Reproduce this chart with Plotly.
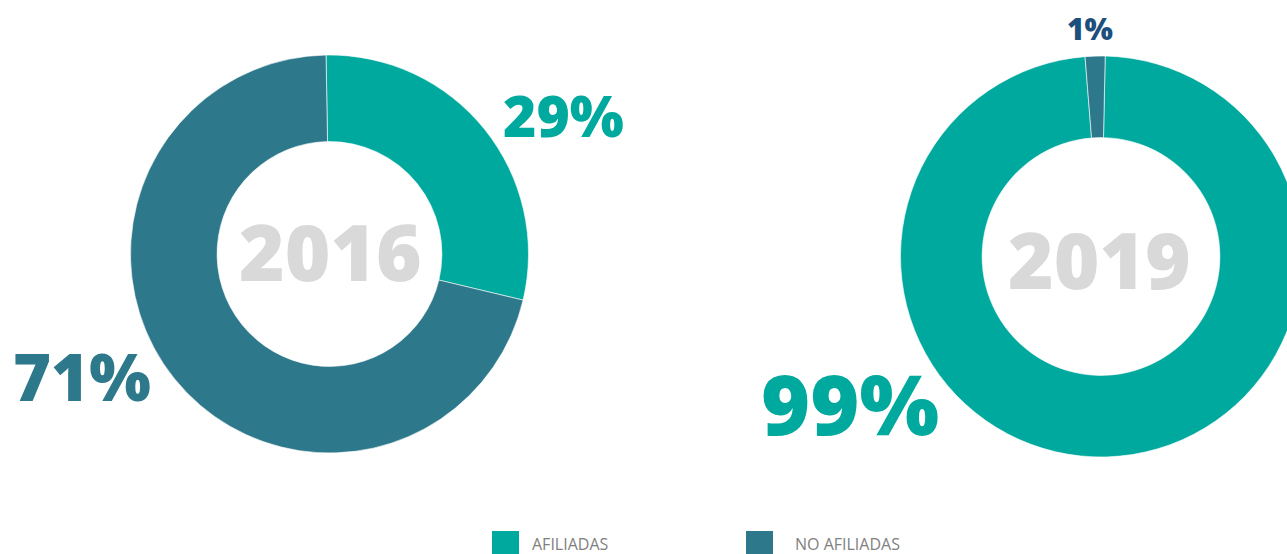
import plotly.graph_objects as go

# ---- data ----
categories = ["AFILIADAS", "NO AFILIADAS"]
values_2016 = [29, 71]
values_2019 = [98.4, 1.6]
labels_2016 = ["29%", "71%"]
labels_2019 = ["99%", "1%"]
years = ["2016", "2019"]

# ---- style ----
TEAL = "#00A99D"
DARK = "#2E788C"
LABEL_1PCT = "#1D4F7C"
YEAR_GREY = "#D9D9D9"
LEGEND_GREY = "#808080"
FONT = "Open Sans"

W, H = 1302, 554


def fx(x):
    return x / W


def fy(y):
    return 1 - y / H


fig = go.Figure()

fig.add_trace(go.Pie(
    labels=categories, values=values_2016, sort=False, direction="clockwise",
    rotation=-1, hole=0.565, textinfo="none", hoverinfo="label+percent",
    marker=dict(colors=[TEAL, DARK], line=dict(color="white", width=0.6)),
    domain=dict(x=[fx(130.5), fx(528.5)], y=[fy(453), fy(55)]),
    showlegend=False,
))
fig.add_trace(go.Pie(
    labels=categories, values=values_2019, sort=False, direction="clockwise",
    rotation=1.2, hole=0.593, textinfo="none", hoverinfo="label+percent",
    marker=dict(colors=[TEAL, DARK], line=dict(color="white", width=0.6)),
    domain=dict(x=[fx(900.5), fx(1301.5)], y=[fy(457), fy(56)]),
    showlegend=False,
))

annotations = []


def add_text(text, x, y, size, color, weight=800):
    annotations.append(dict(
        text=text, x=fx(x), y=fy(y), xref="paper", yref="paper",
        xanchor="center", yanchor="middle", showarrow=False,
        font=dict(family=FONT, size=size, color=color, weight=weight),
    ))


# percentage labels
add_text(labels_2016[0], 563, 115.5, 57, TEAL)
add_text(labels_2016[1], 82, 376, 65, DARK)
add_text(labels_2019[0], 850, 402, 84, TEAL)
add_text(labels_2019[1], 1090, 28, 30, LABEL_1PCT)
# center years
add_text(years[0], 330, 251, 78, YEAR_GREY)
add_text(years[1], 1099, 259, 78, YEAR_GREY)

# legend
shapes = []
legend_items = [(492, 529.5, categories[0], TEAL), (746, 793, categories[1], DARK)]
for sx, tx, name, col in legend_items:
    shapes.append(dict(type="rect", xref="paper", yref="paper",
                       x0=fx(sx), x1=fx(sx + 27), y0=fy(558), y1=fy(531),
                       fillcolor=col, line=dict(width=0)))
    annotations.append(dict(
        text=name, x=fx(tx), y=fy(543.5), xref="paper", yref="paper",
        xanchor="left", yanchor="middle", showarrow=False,
        font=dict(family=FONT, size=16, color=LEGEND_GREY),
    ))

fig.update_layout(
    width=W, height=H,
    margin=dict(l=0, r=0, t=0, b=0),
    paper_bgcolor="white", plot_bgcolor="white",
    annotations=annotations, shapes=shapes,
)

fig.write_html(
    "out.html",
    config={"displayModeBar": False},
    post_script="document.body.style.margin='0';document.body.style.overflow='hidden';",
)
